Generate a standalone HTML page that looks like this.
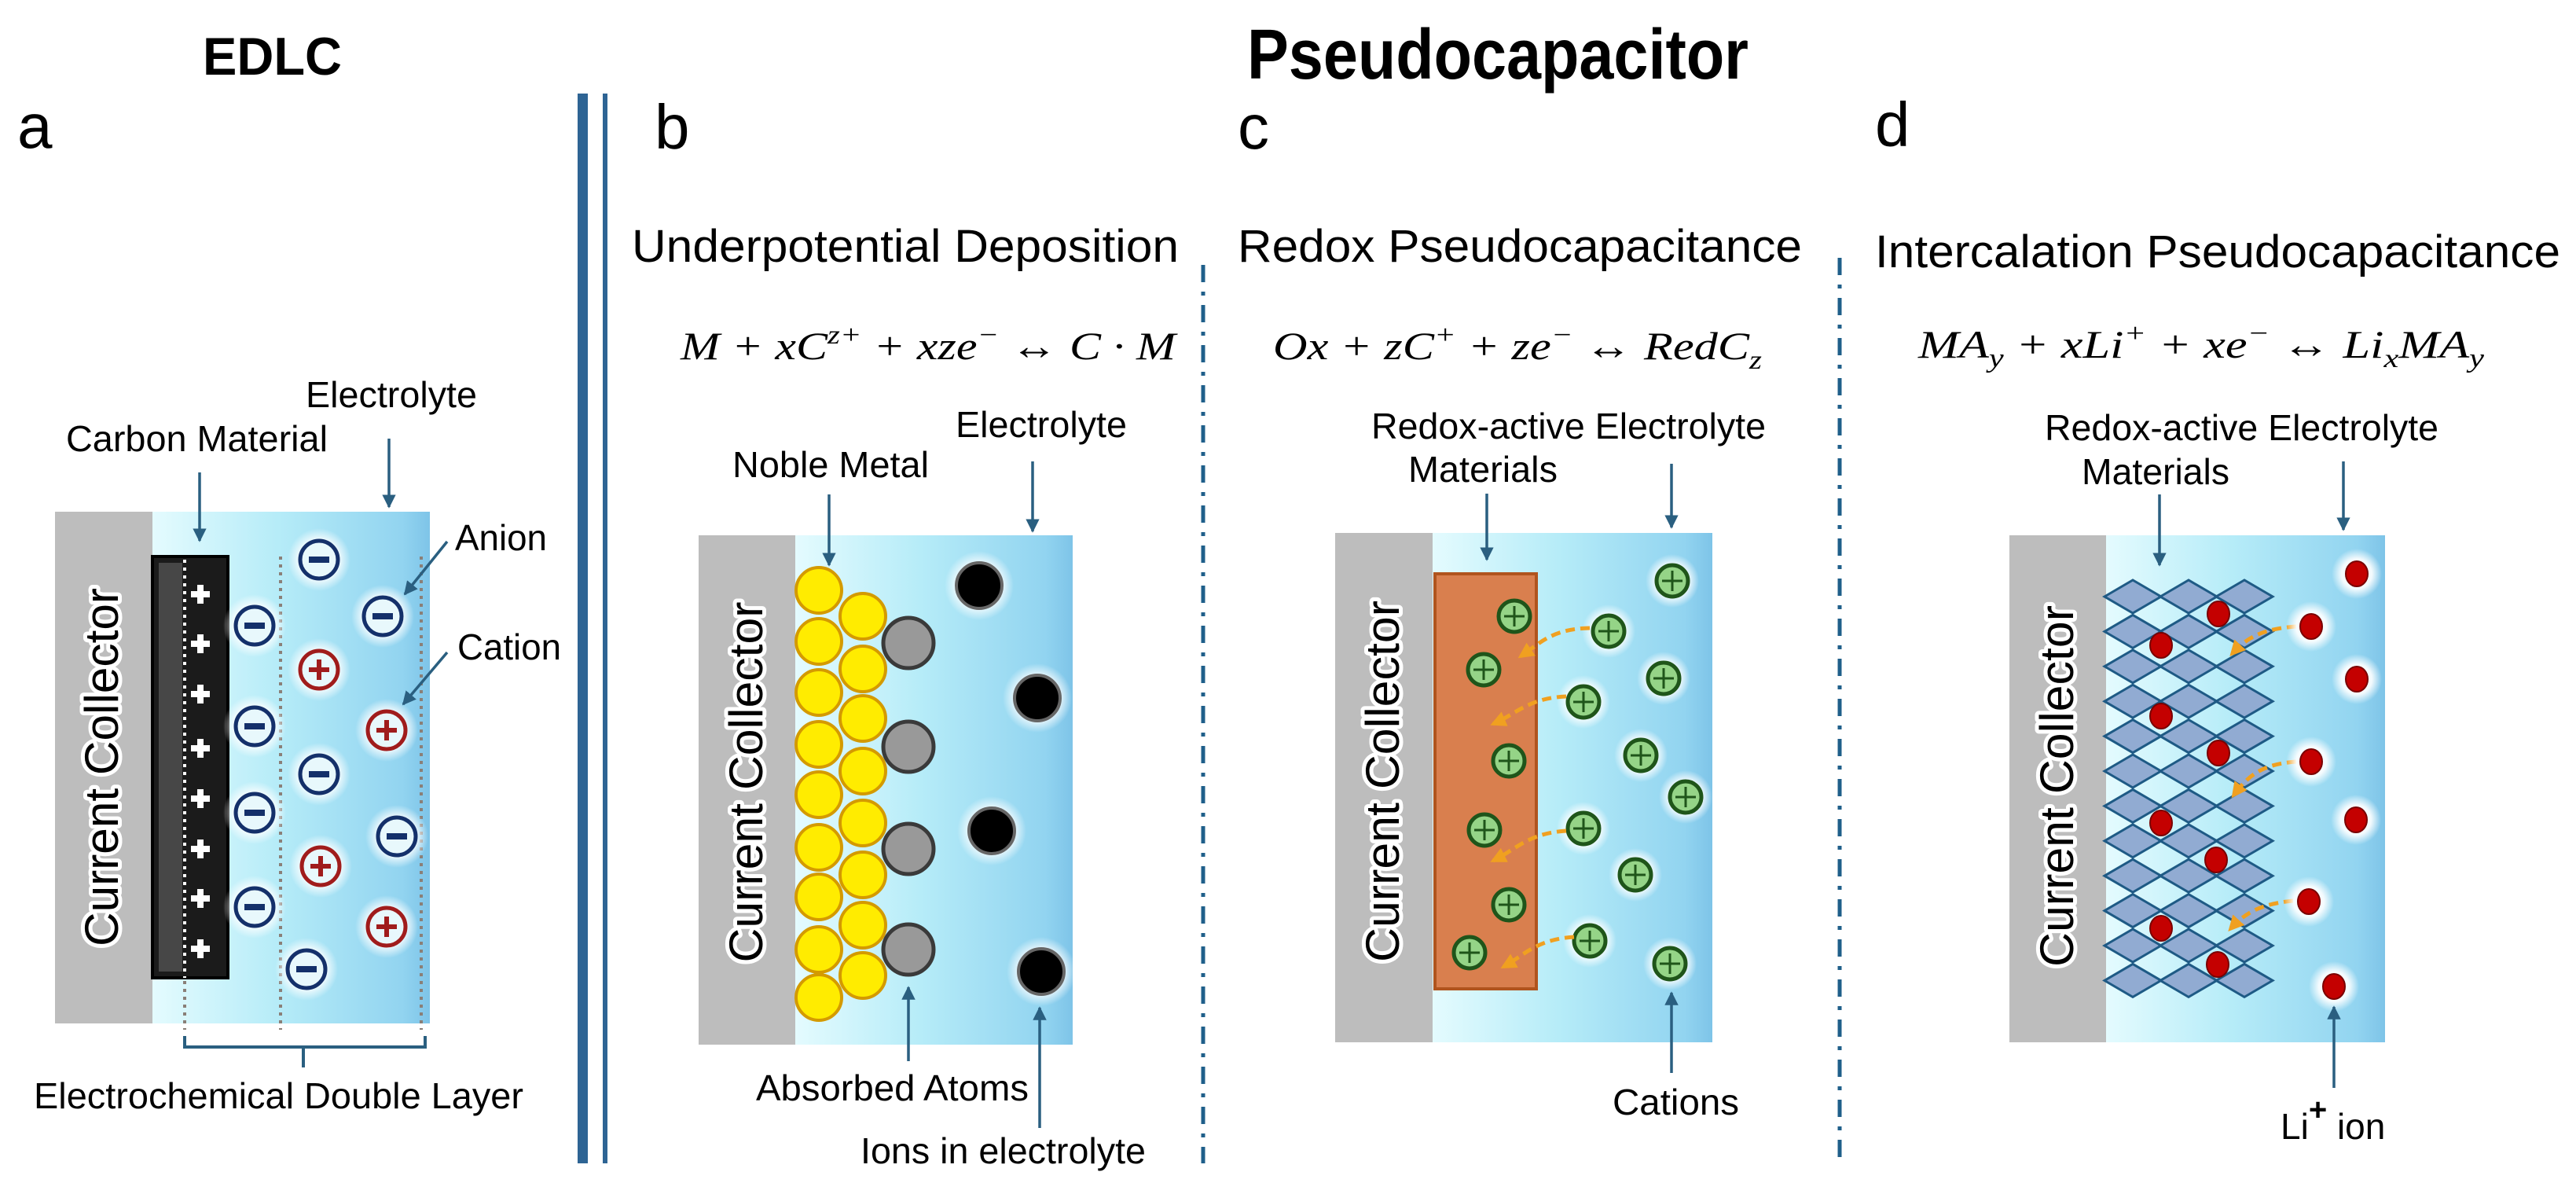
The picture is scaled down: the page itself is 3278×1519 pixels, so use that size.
<!DOCTYPE html>
<html><head><meta charset="utf-8"><style>
html,body{margin:0;padding:0;background:#fff;}
svg{display:block;}
text{font-family:"Liberation Sans",Arial,sans-serif;fill:#000;}
.lab{font-size:46px;}
.cc{font-size:60px;stroke:#fff;stroke-width:10px;paint-order:stroke;stroke-linejoin:round;}
.eq{font-family:"Liberation Serif",serif;font-style:italic;font-size:50px;}
</style></head><body>
<svg id="s" width="3278" height="1519" viewBox="0 0 3278 1519" xmlns="http://www.w3.org/2000/svg">
<defs>
<linearGradient id="el" x1="0" x2="1" y1="0" y2="0">
<stop offset="0" stop-color="#e4fbfe"/><stop offset="0.45" stop-color="#b6ecf8"/><stop offset="0.9" stop-color="#92d4f0"/><stop offset="1" stop-color="#7ec4e8"/>
</linearGradient>
<radialGradient id="halo"><stop offset="0.6" stop-color="#ffffff" stop-opacity="0.9"/><stop offset="1" stop-color="#ffffff" stop-opacity="0"/></radialGradient>
<marker id="ah" viewBox="0 0 10 10" refX="9" refY="5" markerWidth="5" markerHeight="5" orient="auto"><path d="M0,0 L10,5 L0,10z" fill="#2a5f80"/></marker>
<marker id="oh" viewBox="0 0 10 10" refX="8" refY="5" markerWidth="4" markerHeight="4" orient="auto"><path d="M0,0 L10,5 L0,10z" fill="#f0a020"/></marker>
</defs>

<!-- headings -->
<text x="258" y="95" font-size="68" font-weight="bold" textLength="177" lengthAdjust="spacingAndGlyphs">EDLC</text>
<text x="1587" y="100" font-size="90" font-weight="bold" textLength="638" lengthAdjust="spacingAndGlyphs">Pseudocapacitor</text>
<text x="22" y="188" font-size="80">a</text>
<text x="833" y="189" font-size="80">b</text>
<text x="1575" y="189" font-size="80">c</text>
<text x="2386" y="186" font-size="80">d</text>

<!-- dividers -->
<rect x="735" y="119" width="13" height="1361" fill="#2e6494"/>
<rect x="767" y="119" width="6" height="1361" fill="#2e6494"/>
<line x1="1531" y1="337" x2="1531" y2="1480" stroke="#1f5f8a" stroke-width="5" stroke-dasharray="22 12 5 12"/>
<line x1="2341" y1="328" x2="2341" y2="1480" stroke="#1f5f8a" stroke-width="5" stroke-dasharray="22 12 5 12"/>

<!-- titles -->
<text x="804" y="333" font-size="58" textLength="696" lengthAdjust="spacingAndGlyphs">Underpotential Deposition</text>
<text x="1575" y="333" font-size="58" textLength="718" lengthAdjust="spacingAndGlyphs">Redox Pseudocapacitance</text>
<text x="2386" y="340" font-size="58" textLength="872" lengthAdjust="spacingAndGlyphs">Intercalation Pseudocapacitance</text>

<text class="eq" x="866" y="457" textLength="630" lengthAdjust="spacingAndGlyphs">M + xC<tspan dy="-20" font-size="34">z+</tspan><tspan dy="20"> + xze</tspan><tspan dy="-20" font-size="34">−</tspan><tspan dy="20"> ↔ C · M</tspan></text>
<text class="eq" x="1620" y="457" textLength="622" lengthAdjust="spacingAndGlyphs">Ox + zC<tspan dy="-20" font-size="34">+</tspan><tspan dy="20"> + ze</tspan><tspan dy="-20" font-size="34">−</tspan><tspan dy="20"> ↔ RedC</tspan><tspan dy="12" font-size="34">z</tspan></text>
<text class="eq" x="2441" y="455" textLength="720" lengthAdjust="spacingAndGlyphs">MA<tspan dy="12" font-size="34">y</tspan><tspan dy="-12"> + xLi</tspan><tspan dy="-20" font-size="34">+</tspan><tspan dy="20"> + xe</tspan><tspan dy="-20" font-size="34">−</tspan><tspan dy="20"> ↔ Li</tspan><tspan dy="12" font-size="34">x</tspan><tspan dy="-12">MA</tspan><tspan dy="12" font-size="34">y</tspan></text>

<!-- ===== Panel a ===== -->
<rect x="194" y="651" width="353" height="651" fill="url(#el)"/>
<rect x="70" y="651" width="124" height="651" fill="#bdbdbd"/>
<rect x="194" y="708" width="96" height="536" fill="#1b1b1b" stroke="#000" stroke-width="4"/>
<rect x="202" y="716" width="30" height="520" fill="#474747"/>
<g id="aplus" fill="#fff" font-size="44" font-weight="bold"></g>
<line x1="235" y1="712" x2="235" y2="1244" stroke="#fff" stroke-width="4" stroke-dasharray="4 6"/>
<line x1="235" y1="1248" x2="235" y2="1310" stroke="#8a7f78" stroke-width="4" stroke-dasharray="4 6"/>
<line x1="357" y1="708" x2="357" y2="1310" stroke="#8a7f78" stroke-width="4" stroke-dasharray="4 6"/>
<line x1="536" y1="708" x2="536" y2="1310" stroke="#8a7f78" stroke-width="4" stroke-dasharray="4 6"/>
<g id="aions"></g>
<path d="M235,1318 L235,1332 L541,1332 L541,1318 M386,1332 L386,1358" fill="none" stroke="#2a5f80" stroke-width="4"/>
<text class="cc" x="150" y="976" text-anchor="middle" textLength="456" lengthAdjust="spacingAndGlyphs" transform="rotate(-90 150 976)">Current Collector</text>
<text class="lab" x="389" y="518" textLength="218" lengthAdjust="spacingAndGlyphs">Electrolyte</text>
<text class="lab" x="84" y="574" textLength="333" lengthAdjust="spacingAndGlyphs">Carbon Material</text>
<text class="lab" x="579" y="700" textLength="117" lengthAdjust="spacingAndGlyphs">Anion</text>
<text class="lab" x="582" y="839" textLength="132" lengthAdjust="spacingAndGlyphs">Cation</text>
<text class="lab" x="43" y="1410" textLength="623" lengthAdjust="spacingAndGlyphs">Electrochemical Double Layer</text>
<g stroke="#2a5f80" stroke-width="3.5" fill="none" marker-end="url(#ah)">
<line x1="495" y1="558" x2="495" y2="645"/>
<line x1="254" y1="601" x2="254" y2="688"/>
<line x1="569" y1="689" x2="515" y2="756"/>
<line x1="569" y1="830" x2="513" y2="896"/>
</g>

<!-- ===== Panel b ===== -->
<rect x="1012" y="681" width="353" height="648" fill="url(#el)"/>
<rect x="889" y="681" width="123" height="648" fill="#bdbdbd"/>
<g id="bcirc"></g>
<text class="cc" x="970" y="995" text-anchor="middle" textLength="459" lengthAdjust="spacingAndGlyphs" transform="rotate(-90 970 995)">Current Collector</text>
<text class="lab" x="932" y="607" textLength="250" lengthAdjust="spacingAndGlyphs">Noble Metal</text>
<text class="lab" x="1216" y="556" textLength="218" lengthAdjust="spacingAndGlyphs">Electrolyte</text>
<text class="lab" x="962" y="1400" textLength="347" lengthAdjust="spacingAndGlyphs">Absorbed Atoms</text>
<text class="lab" x="1095" y="1480" textLength="363" lengthAdjust="spacingAndGlyphs">Ions in electrolyte</text>
<g stroke="#2a5f80" stroke-width="3.5" fill="none" marker-end="url(#ah)">
<line x1="1055" y1="629" x2="1055" y2="719"/>
<line x1="1314" y1="587" x2="1314" y2="676"/>
<line x1="1156" y1="1350" x2="1156" y2="1256"/>
<line x1="1323" y1="1435" x2="1323" y2="1282"/>
</g>

<!-- ===== Panel c ===== -->
<rect x="1823" y="678" width="356" height="648" fill="url(#el)"/>
<rect x="1699" y="678" width="124" height="648" fill="#bdbdbd"/>
<rect x="1826" y="730" width="129" height="528" fill="#d97f4e" stroke="#b0541e" stroke-width="4"/>
<g id="ccirc"></g>
<g stroke="#f0a020" stroke-width="5" fill="none" stroke-dasharray="12 7" marker-end="url(#oh)">
<path d="M2023,799 C1975,800 1960,818 1935,835"/>
<path d="M1993,886 C1945,888 1930,908 1900,921"/>
<path d="M1993,1057 C1945,1060 1930,1080 1900,1095"/>
<path d="M2003,1192 C1955,1195 1940,1215 1913,1230"/>
</g>
<text class="cc" x="1780" y="994" text-anchor="middle" textLength="460" lengthAdjust="spacingAndGlyphs" transform="rotate(-90 1780 994)">Current Collector</text>
<text class="lab" x="1745" y="558" textLength="502" lengthAdjust="spacingAndGlyphs">Redox-active Electrolyte</text>
<text class="lab" x="1792" y="613" textLength="190" lengthAdjust="spacingAndGlyphs">Materials</text>
<text class="lab" x="2052" y="1418" textLength="161" lengthAdjust="spacingAndGlyphs">Cations</text>
<g stroke="#2a5f80" stroke-width="3.5" fill="none" marker-end="url(#ah)">
<line x1="1892" y1="628" x2="1892" y2="712"/>
<line x1="2127" y1="590" x2="2127" y2="671"/>
<line x1="2127" y1="1365" x2="2127" y2="1263"/>
</g>

<!-- ===== Panel d ===== -->
<rect x="2680" y="681" width="355" height="645" fill="url(#el)"/>
<rect x="2557" y="681" width="123" height="645" fill="#bdbdbd"/>
<g id="dgrid"></g>
<g stroke="#f0a020" stroke-width="5" fill="none" stroke-dasharray="12 7" marker-end="url(#oh)">
<path d="M2922,797 C2880,800 2860,810 2840,832"/>
<path d="M2922,969 C2880,972 2862,985 2842,1012"/>
<path d="M2918,1146 C2878,1150 2858,1160 2838,1182"/>
</g>
<g id="ddots"></g>
<text class="cc" x="2638" y="1000" text-anchor="middle" textLength="460" lengthAdjust="spacingAndGlyphs" transform="rotate(-90 2638 1000)">Current Collector</text>
<text class="lab" x="2602" y="560" textLength="501" lengthAdjust="spacingAndGlyphs">Redox-active Electrolyte</text>
<text class="lab" x="2649" y="616" textLength="188" lengthAdjust="spacingAndGlyphs">Materials</text>
<text class="lab" x="2902" y="1449">Li<tspan dy="-24" font-weight="bold" font-size="40">+</tspan><tspan dy="24"> ion</tspan></text>
<g stroke="#2a5f80" stroke-width="3.5" fill="none" marker-end="url(#ah)">
<line x1="2748" y1="629" x2="2748" y2="719"/>
<line x1="2982" y1="587" x2="2982" y2="674"/>
<line x1="2970" y1="1384" x2="2970" y2="1281"/>
</g>
</svg>
<script>
var NS="http://www.w3.org/2000/svg";
function el(p,t,a){var e=document.createElementNS(NS,t);for(var k in a)e.setAttribute(k,a[k]);document.getElementById(p).appendChild(e);return e;}
// a plus signs
[756,819,883,952,1016,1080,1143,1207].forEach(function(y){
 el("aplus","rect",{x:243,y:y-4,width:24,height:8,fill:"#fff"});
 el("aplus","rect",{x:251,y:y-12,width:8,height:24,fill:"#fff"});
});
var an=[[406,712],[487,784],[324,796],[324,924],[406,985],[324,1034],[505,1064],[324,1154],[390,1233]];
var ca=[[406,852],[492,929],[408,1102],[492,1179]];
an.concat(ca).forEach(function(p){el("aions","circle",{cx:p[0],cy:p[1],r:40,fill:"url(#halo)"});});
an.forEach(function(p){el("aions","circle",{cx:p[0],cy:p[1],r:24,fill:"#e8f8fc",stroke:"#14306a","stroke-width":5});
 el("aions","rect",{x:p[0]-13,y:p[1]-4,width:26,height:8,fill:"#14306a"});});
ca.forEach(function(p){el("aions","circle",{cx:p[0],cy:p[1],r:24,fill:"#e8f8fc",stroke:"#a01c1c","stroke-width":5});
 el("aions","rect",{x:p[0]-13,y:p[1]-3,width:26,height:6,fill:"#a01c1c"});
 el("aions","rect",{x:p[0]-3,y:p[1]-13,width:6,height:26,fill:"#a01c1c"});});
// b
[751,816,881,947,1011,1078,1141,1208,1269].forEach(function(y){el("bcirc","circle",{cx:1042,cy:y,r:29,fill:"#ffec00",stroke:"#d49a00","stroke-width":4});});
[784,851,914,981,1047,1113,1177,1241].forEach(function(y){el("bcirc","circle",{cx:1098,cy:y,r:29,fill:"#ffec00",stroke:"#d49a00","stroke-width":4});});
[818,950,1080,1208].forEach(function(y){el("bcirc","circle",{cx:1156,cy:y,r:32,fill:"#999",stroke:"#3a3a3a","stroke-width":5});});
[[1246,745],[1320,888],[1262,1057],[1325,1236]].forEach(function(p){
 el("bcirc","circle",{cx:p[0],cy:p[1],r:44,fill:"url(#halo)"});
 el("bcirc","circle",{cx:p[0],cy:p[1],r:29,fill:"#000",stroke:"#666","stroke-width":4});});
// c
function green(x,y,h){ if(h) el("ccirc","circle",{cx:x,cy:y,r:34,fill:"url(#halo)"});
 el("ccirc","circle",{cx:x,cy:y,r:20,fill:"#95d487",stroke:"#1f551a","stroke-width":5});
 el("ccirc","line",{x1:x-13,y1:y,x2:x+13,y2:y,stroke:"#1f551a","stroke-width":3});
 el("ccirc","line",{x1:x,y1:y-13,x2:x,y2:y+13,stroke:"#1f551a","stroke-width":3});}
[[1927,784],[1888,852],[1920,968],[1889,1056],[1920,1151],[1870,1212]].forEach(function(p){green(p[0],p[1],false);});
[[2128,739],[2047,803],[2117,863],[2015,893],[2088,961],[2145,1014],[2015,1054],[2081,1113],[2023,1197],[2125,1226]].forEach(function(p){green(p[0],p[1],true);});
// d grid
for(var i=0;i<12;i++){var y=759+i*44.4;[2714,2785,2856].forEach(function(x){
 el("dgrid","path",{d:"M"+(x-36)+","+y+" L"+x+","+(y-21)+" L"+(x+36)+","+y+" L"+x+","+(y+21)+"Z",fill:"#91abd2",stroke:"#1e5a85","stroke-width":3});});}
var inn=[[2823,781],[2750,821],[2750,911],[2823,958],[2750,1047],[2820,1094],[2750,1181],[2822,1227]];
var out=[[2999,730],[2941,797],[2999,864],[2941,969],[2998,1043],[2938,1147],[2970,1255]];
out.forEach(function(p){el("ddots","circle",{cx:p[0],cy:p[1],r:32,fill:"url(#halo)"});});
inn.concat(out).forEach(function(p){el("ddots","ellipse",{cx:p[0],cy:p[1],rx:14,ry:16,fill:"#c40000",stroke:"#7a0000","stroke-width":2});});
</script>
</body></html>
